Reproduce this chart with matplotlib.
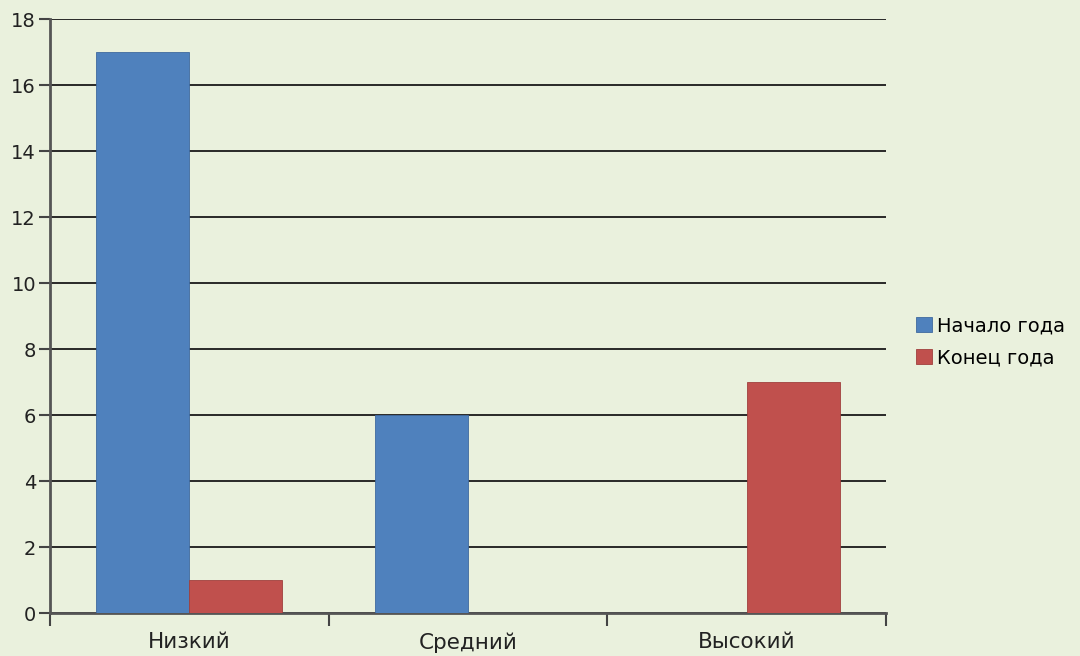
import matplotlib
matplotlib.use("Agg")
from matplotlib import pyplot as plt
import numpy as np

categories = ['Низкий', 'Средний', 'Высокий']
start_year = [17, 6, 0]
end_year = [1, 0, 7]
series_names = ['Начало года', 'Конец года']
yticks = [0, 2, 4, 6, 8, 10, 12, 14, 16, 18]

bg = '#eaf1dd'
blue = '#4f81bd'
red = '#c0504d'

fig = plt.figure(figsize=(10.8, 6.56), dpi=100, facecolor=bg)
ax = fig.add_axes([0.0463, 0.0655, 0.7741, 0.9055], facecolor=bg)

x = np.arange(len(categories))
w = 1.0 / 3
b1 = ax.bar(x - w / 2, start_year, w, color=blue, edgecolor='#3f6a9e', linewidth=0.6, zorder=3, label=series_names[0])
b2 = ax.bar(x + w / 2, end_year, w, color=red, edgecolor='#a0403d', linewidth=0.6, zorder=3, label=series_names[1])

ax.set_xlim(-0.5, 2.5)
ax.set_ylim(0, 18)
ax.set_yticks(yticks)
ax.set_yticklabels([str(t) for t in yticks], fontsize=14, color='#222222')
ax.yaxis.grid(True, color='#1a1a1a', linewidth=1.3, zorder=1)
ax.set_axisbelow(True)

# category ticks sit at the boundaries, labels at the centers
ax.set_xticks([-0.5, 0.5, 1.5, 2.5])
ax.set_xticklabels([])
ax.set_xticks(x, minor=True)
ax.set_xticklabels(categories, minor=True, fontsize=15.5, color='#222222')
ax.tick_params(axis='x', which='minor', length=0, pad=14)
ax.tick_params(axis='x', which='major', length=9, width=1.5, color='#444444', direction='out')
ax.tick_params(axis='y', length=8, width=1.5, color='#444444', pad=2)

for s in ['top', 'right']:
    ax.spines[s].set_visible(False)
for s in ['left', 'bottom']:
    ax.spines[s].set_color('#555555')
    ax.spines[s].set_linewidth(2)

leg = fig.legend(handles=[b1, b2], labels=series_names, loc='center left',
                 bbox_to_anchor=(0.836, 0.479), frameon=False, fontsize=14,
                 handlelength=0.8, handleheight=0.8, handletextpad=0.25, labelspacing=0.65,
                 borderpad=0.2)

plt.savefig('out.png', dpi=100, facecolor=bg)
